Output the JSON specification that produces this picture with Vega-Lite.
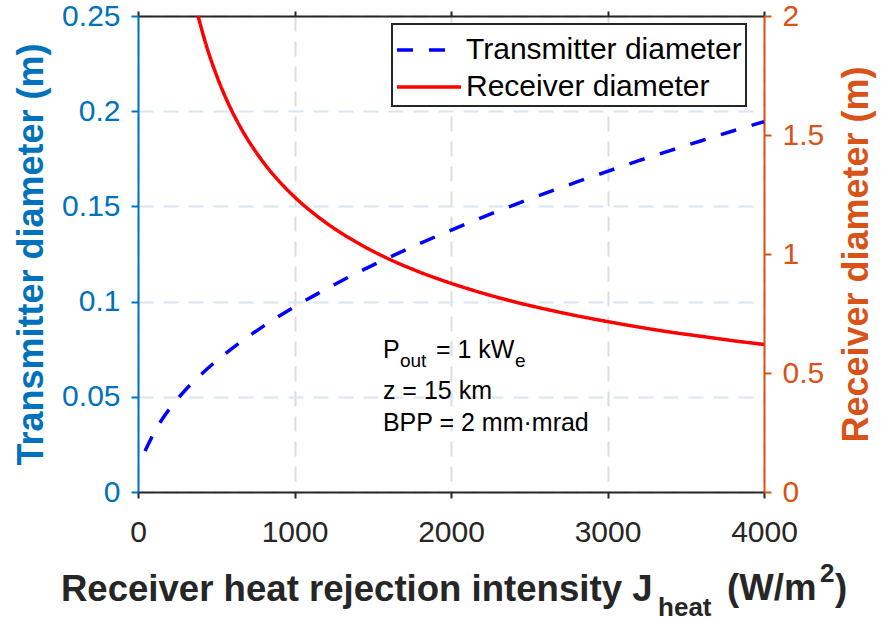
{
  "$schema": "https://vega.github.io/schema/vega-lite/v6.json",
  "width": 626,
  "height": 476,
  "autosize": {"type": "none"},
  "padding": {"left": 138, "top": 16, "right": 117, "bottom": 129},
  "background": "white",
  "config": {
    "font": "Liberation Sans",
    "view": {"stroke": null},
    "legend": {
      "orient": "none",
      "legendX": 254,
      "legendY": 8,
      "direction": "vertical",
      "strokeColor": "#262626",
      "strokeWidth": 2,
      "fillColor": "white",
      "padding": 4,
      "labelFontSize": 30,
      "labelColor": "#000000",
      "labelFont": "Liberation Sans",
      "labelLimit": 0,
      "symbolType": "M-1.6,0H1.6",
      "symbolSize": 1600,
      "symbolStrokeWidth": 3.5,
      "symbolOffset": 11,
      "labelOffset": 15,
      "rowPadding": 0
    }
  },
  "datasets": {
    "tx": [
      {"J": 45, "D": 0.0215, "series": "Transmitter diameter"},
      {"J": 75, "D": 0.0266, "series": "Transmitter diameter"},
      {"J": 100, "D": 0.0308, "series": "Transmitter diameter"},
      {"J": 150, "D": 0.0377, "series": "Transmitter diameter"},
      {"J": 200, "D": 0.0435, "series": "Transmitter diameter"},
      {"J": 250, "D": 0.0486, "series": "Transmitter diameter"},
      {"J": 300, "D": 0.0533, "series": "Transmitter diameter"},
      {"J": 400, "D": 0.0615, "series": "Transmitter diameter"},
      {"J": 500, "D": 0.0688, "series": "Transmitter diameter"},
      {"J": 600, "D": 0.0753, "series": "Transmitter diameter"},
      {"J": 700, "D": 0.0814, "series": "Transmitter diameter"},
      {"J": 800, "D": 0.0870, "series": "Transmitter diameter"},
      {"J": 900, "D": 0.0923, "series": "Transmitter diameter"},
      {"J": 1000, "D": 0.0973, "series": "Transmitter diameter"},
      {"J": 1200, "D": 0.1065, "series": "Transmitter diameter"},
      {"J": 1400, "D": 0.1151, "series": "Transmitter diameter"},
      {"J": 1600, "D": 0.1230, "series": "Transmitter diameter"},
      {"J": 1800, "D": 0.1305, "series": "Transmitter diameter"},
      {"J": 2000, "D": 0.1375, "series": "Transmitter diameter"},
      {"J": 2200, "D": 0.1443, "series": "Transmitter diameter"},
      {"J": 2400, "D": 0.1507, "series": "Transmitter diameter"},
      {"J": 2600, "D": 0.1568, "series": "Transmitter diameter"},
      {"J": 2800, "D": 0.1627, "series": "Transmitter diameter"},
      {"J": 3000, "D": 0.1684, "series": "Transmitter diameter"},
      {"J": 3200, "D": 0.1740, "series": "Transmitter diameter"},
      {"J": 3400, "D": 0.1793, "series": "Transmitter diameter"},
      {"J": 3600, "D": 0.1845, "series": "Transmitter diameter"},
      {"J": 3800, "D": 0.1896, "series": "Transmitter diameter"},
      {"J": 4000, "D": 0.1945, "series": "Transmitter diameter"}
    ],
    "rx": [
      {"J": 384, "D": 2.0, "series": "Receiver diameter"},
      {"J": 420, "D": 1.913, "series": "Receiver diameter"},
      {"J": 450, "D": 1.848, "series": "Receiver diameter"},
      {"J": 500, "D": 1.754, "series": "Receiver diameter"},
      {"J": 550, "D": 1.672, "series": "Receiver diameter"},
      {"J": 600, "D": 1.601, "series": "Receiver diameter"},
      {"J": 650, "D": 1.538, "series": "Receiver diameter"},
      {"J": 700, "D": 1.482, "series": "Receiver diameter"},
      {"J": 750, "D": 1.432, "series": "Receiver diameter"},
      {"J": 800, "D": 1.386, "series": "Receiver diameter"},
      {"J": 900, "D": 1.307, "series": "Receiver diameter"},
      {"J": 1000, "D": 1.240, "series": "Receiver diameter"},
      {"J": 1200, "D": 1.132, "series": "Receiver diameter"},
      {"J": 1400, "D": 1.048, "series": "Receiver diameter"},
      {"J": 1600, "D": 0.980, "series": "Receiver diameter"},
      {"J": 1800, "D": 0.924, "series": "Receiver diameter"},
      {"J": 2000, "D": 0.877, "series": "Receiver diameter"},
      {"J": 2200, "D": 0.836, "series": "Receiver diameter"},
      {"J": 2400, "D": 0.800, "series": "Receiver diameter"},
      {"J": 2600, "D": 0.769, "series": "Receiver diameter"},
      {"J": 2800, "D": 0.741, "series": "Receiver diameter"},
      {"J": 3000, "D": 0.716, "series": "Receiver diameter"},
      {"J": 3200, "D": 0.693, "series": "Receiver diameter"},
      {"J": 3400, "D": 0.672, "series": "Receiver diameter"},
      {"J": 3600, "D": 0.654, "series": "Receiver diameter"},
      {"J": 3800, "D": 0.636, "series": "Receiver diameter"},
      {"J": 4000, "D": 0.620, "series": "Receiver diameter"}
    ]
  },
  "layer": [
    {
      "layer": [
        {
          "data": {"name": "tx"},
          "mark": {"type": "line", "strokeWidth": 3.5, "interpolate": "monotone"},
          "encoding": {
            "x": {
              "field": "J", "type": "quantitative",
              "scale": {"domain": [0, 4000], "nice": false},
              "axis": {
                "orient": "bottom",
                "values": [0, 1000, 2000, 3000, 4000],
                "format": "d",
                "labelFlush": false,
                "labelFontSize": 30,
                "labelColor": "#262626",
                "labelFont": "Liberation Sans",
                "labelPadding": 19,
                "tickSize": 6,
                "tickWidth": 2,
                "tickColor": "#262626",
                "domainColor": "#262626",
                "domainWidth": 2,
                "grid": true,
                "gridColor": "#dedede",
                "gridDash": [15, 10],
                "gridWidth": 2,
                "title": "Receiver heat rejection intensity J",
                "titleFontSize": 36.6,
                "titleFontWeight": "bold",
                "titleColor": "#262626",
                "titleFont": "Liberation Sans",
                "titleX": 514,
                "titleY": 108,
                "titleAlign": "right",
                "titleBaseline": "alphabetic"
              }
            },
            "y": {
              "field": "D", "type": "quantitative",
              "scale": {"domain": [0, 0.25], "nice": false},
              "axis": {
                "orient": "left",
                "values": [0, 0.05, 0.1, 0.15, 0.2, 0.25],
                "format": "~g",
                "labelFontSize": 30,
                "labelColor": "#0072BD",
                "labelFont": "Liberation Sans",
                "labelPadding": 11,
                "tickSize": 7,
                "tickWidth": 2,
                "tickColor": "#0072BD",
                "domainColor": "#0072BD",
                "domainWidth": 2,
                "grid": true,
                "gridColor": "#d9e6f0",
                "gridDash": [15, 10],
                "gridWidth": 2,
                "title": "Transmitter diameter (m)",
                "titleFontSize": 36,
                "titleFontWeight": "bold",
                "titleColor": "#0072BD",
                "titleFont": "Liberation Sans",
                "titleAngle": 270,
                "titleX": -96,
                "titleY": 238,
                "titleAlign": "center",
                "titleBaseline": "alphabetic"
              }
            },
            "color": {
              "field": "series", "type": "nominal",
              "scale": {"domain": ["Transmitter diameter", "Receiver diameter"], "range": ["#0000FF", "#FF0000"]},
              "legend": {"title": null}
            },
            "strokeDash": {
              "field": "series", "type": "nominal",
              "scale": {"domain": ["Transmitter diameter", "Receiver diameter"], "range": [[16, 16], [1, 0]]},
              "legend": {"title": null}
            }
          }
        },
        {
          "data": {"values": [
            {"J": 1565, "D": 0.07038, "t": "P"},
            {"J": 1565, "D": 0.04884, "t": "z = 15 km"},
            {"J": 1565, "D": 0.03204, "t": "BPP = 2 mm·mrad"}
          ]},
          "mark": {"type": "text", "fontSize": 25, "align": "left", "baseline": "alphabetic", "color": "#000000", "font": "Liberation Sans"},
          "encoding": {
            "x": {"field": "J", "type": "quantitative", "scale": {"domain": [0, 4000], "nice": false}},
            "y": {"field": "D", "type": "quantitative", "scale": {"domain": [0, 0.25], "nice": false}},
            "text": {"field": "t"}
          }
        },
        {
          "data": {"values": [{"J": 1565, "D": 0.07038, "t": "out"}]},
          "mark": {"type": "text", "fontSize": 19, "align": "left", "baseline": "alphabetic", "dx": 17, "dy": 9, "color": "#000000", "font": "Liberation Sans"},
          "encoding": {
            "x": {"field": "J", "type": "quantitative", "scale": {"domain": [0, 4000], "nice": false}},
            "y": {"field": "D", "type": "quantitative", "scale": {"domain": [0, 0.25], "nice": false}},
            "text": {"field": "t"}
          }
        },
        {
          "data": {"values": [{"J": 1565, "D": 0.07038, "t": "= 1 kW"}]},
          "mark": {"type": "text", "fontSize": 25, "align": "left", "baseline": "alphabetic", "dx": 53, "color": "#000000", "font": "Liberation Sans"},
          "encoding": {
            "x": {"field": "J", "type": "quantitative", "scale": {"domain": [0, 4000], "nice": false}},
            "y": {"field": "D", "type": "quantitative", "scale": {"domain": [0, 0.25], "nice": false}},
            "text": {"field": "t"}
          }
        },
        {
          "data": {"values": [{"J": 1565, "D": 0.07038, "t": "e"}]},
          "mark": {"type": "text", "fontSize": 19, "align": "left", "baseline": "alphabetic", "dx": 132, "dy": 9, "color": "#000000", "font": "Liberation Sans"},
          "encoding": {
            "x": {"field": "J", "type": "quantitative", "scale": {"domain": [0, 4000], "nice": false}},
            "y": {"field": "D", "type": "quantitative", "scale": {"domain": [0, 0.25], "nice": false}},
            "text": {"field": "t"}
          }
        },
        {
          "data": {"values": [{"J": 3323, "D": 0, "t": "heat"}]},
          "mark": {"type": "text", "fontSize": 26, "fontWeight": "bold", "align": "left", "baseline": "alphabetic", "dy": 124, "color": "#262626", "font": "Liberation Sans"},
          "encoding": {
            "x": {"field": "J", "type": "quantitative", "scale": {"domain": [0, 4000], "nice": false}},
            "y": {"field": "D", "type": "quantitative", "scale": {"domain": [0, 0.25], "nice": false}},
            "text": {"field": "t"}
          }
        },
        {
          "data": {"values": [{"J": 3764, "D": 0, "t": "(W/m"}, {"J": 4454, "D": 0, "t": ")"}]},
          "mark": {"type": "text", "fontSize": 36.6, "fontWeight": "bold", "align": "left", "baseline": "alphabetic", "dy": 108, "color": "#262626", "font": "Liberation Sans"},
          "encoding": {
            "x": {"field": "J", "type": "quantitative", "scale": {"domain": [0, 4000], "nice": false}},
            "y": {"field": "D", "type": "quantitative", "scale": {"domain": [0, 0.25], "nice": false}},
            "text": {"field": "t"}
          }
        },
        {
          "data": {"values": [{"J": 4358, "D": 0, "t": "2"}]},
          "mark": {"type": "text", "fontSize": 26, "fontWeight": "bold", "align": "left", "baseline": "alphabetic", "dy": 90, "color": "#262626", "font": "Liberation Sans"},
          "encoding": {
            "x": {"field": "J", "type": "quantitative", "scale": {"domain": [0, 4000], "nice": false}},
            "y": {"field": "D", "type": "quantitative", "scale": {"domain": [0, 0.25], "nice": false}},
            "text": {"field": "t"}
          }
        }
      ]
    },
    {
      "data": {"name": "rx"},
      "mark": {"type": "line", "strokeWidth": 3.5, "interpolate": "monotone"},
      "encoding": {
        "x": {
          "field": "J", "type": "quantitative",
          "scale": {"domain": [0, 4000], "nice": false},
          "axis": {
            "orient": "top",
            "values": [0, 1000, 2000, 3000, 4000],
            "labels": false,
            "title": null,
            "grid": false,
            "tickSize": 5,
            "tickWidth": 2,
            "tickColor": "#262626",
            "domainColor": "#262626",
            "domainWidth": 2
          }
        },
        "y": {
          "field": "D", "type": "quantitative",
          "scale": {"domain": [0, 2], "nice": false},
          "axis": {
            "orient": "right",
            "values": [0, 0.5, 1, 1.5, 2],
            "format": "~g",
            "labelFontSize": 30,
            "labelColor": "#D95319",
            "labelFont": "Liberation Sans",
            "labelPadding": 11,
            "tickSize": 7,
            "tickWidth": 2,
            "tickColor": "#D95319",
            "domainColor": "#D95319",
            "domainWidth": 2,
            "grid": false,
            "title": "Receiver diameter (m)",
            "titleFontSize": 36,
            "titleFontWeight": "bold",
            "titleColor": "#D95319",
            "titleFont": "Liberation Sans",
            "titleAngle": 270,
            "titleX": 103,
            "titleY": 238,
            "titleAlign": "center",
            "titleBaseline": "alphabetic"
          }
        },
        "color": {
          "field": "series", "type": "nominal",
          "scale": {"domain": ["Transmitter diameter", "Receiver diameter"], "range": ["#0000FF", "#FF0000"]},
          "legend": {"title": null}
        },
        "strokeDash": {
          "field": "series", "type": "nominal",
          "scale": {"domain": ["Transmitter diameter", "Receiver diameter"], "range": [[16, 16], [1, 0]]},
          "legend": {"title": null}
        }
      }
    }
  ],
  "resolve": {"scale": {"y": "independent"}}
}
